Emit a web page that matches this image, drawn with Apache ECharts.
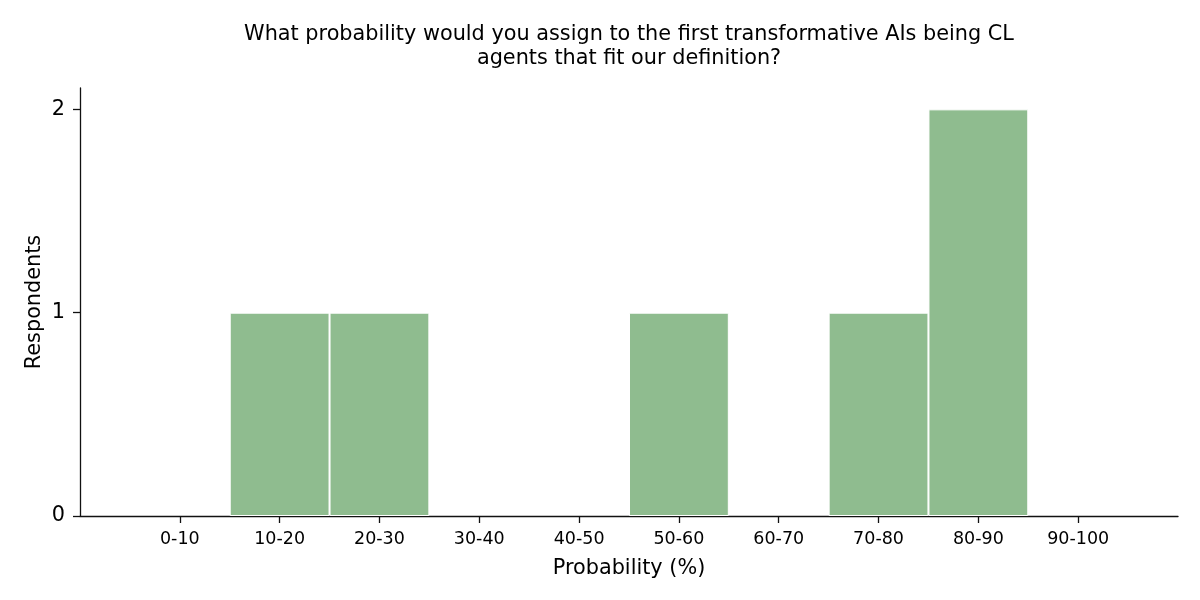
<!DOCTYPE html>
<html>
<head>
<meta charset="utf-8">
<script src="https://cdn.jsdelivr.net/npm/echarts@6/dist/echarts.min.js"></script>
<style>html,body{margin:0;padding:0;background:#fff}#c{width:1200px;height:600px}</style>
</head>
<body>
<div id="c"></div>
<script>
const categories = ['0-10','10-20','20-30','30-40','40-50','50-60','60-70','70-80','80-90','90-100'];
const respondents = [0, 1, 1, 0, 0, 1, 0, 1, 2, 0];
const yTicks = [0, 1, 2];
const titleText = 'What probability would you assign to the first transformative AIs being CL\nagents that fit our definition?';

const font = 'DejaVu Sans';
const gridLeft = 80, gridRight = 22, gridTop = 88, gridBottom = 84;
const plotW = 1200 - gridLeft - gridRight;
const slot = plotW / 11;
const axisColor = '#111';

const chart = echarts.init(document.getElementById('c'), null, {renderer: 'canvas'});
chart.setOption({
  animation: false,
  backgroundColor: '#fff',
  title: {
    text: titleText,
    left: 624, top: 18, textAlign: 'center',
    textStyle: {fontFamily: font, fontSize: 20.8, fontWeight: 'normal', color: '#000', lineHeight: 24}
  },
  grid: {left: gridLeft, right: gridRight, top: gridTop, bottom: gridBottom},
  xAxis: {
    type: 'value', min: -1, max: 10, interval: 1,
    name: 'Probability (%)', nameLocation: 'middle', nameGap: 42,
    nameTextStyle: {fontFamily: font, fontSize: 20.8, color: '#000'},
    axisLine: {onZero: false, lineStyle: {color: axisColor, width: 1.3}},
    axisTick: {show: true, length: 7, lineStyle: {color: axisColor, width: 1.3},
      customValues: categories.map((c, i) => i)},
    axisLabel: {fontFamily: font, fontSize: 17.5, color: '#000', margin: 14,
      customValues: categories.map((c, i) => i),
      formatter: v => categories[Math.round(v)] || ''},
    splitLine: {show: false}
  },
  yAxis: {
    type: 'value', min: 0, max: 2.105, interval: 1,
    name: 'Respondents', nameLocation: 'middle', nameGap: 35, nameMoveOverlap: false,
    nameTextStyle: {fontFamily: font, fontSize: 20.8, color: '#000'},
    axisLine: {show: true, onZero: false, lineStyle: {color: axisColor, width: 1.3}},
    axisTick: {show: true, length: 7, lineStyle: {color: axisColor, width: 1.3}, customValues: yTicks},
    axisLabel: {fontFamily: font, fontSize: 20.8, color: '#000', margin: 15, customValues: yTicks},
    splitLine: {show: false}
  },
  series: [{
    type: 'bar',
    data: respondents.map((v, i) => [i, v]).filter(d => d[1] > 0),
    barWidth: slot,
    itemStyle: {color: '#8fbc8f', borderColor: '#fff', borderWidth: 1}
  }]
});
</script>
</body>
</html>
